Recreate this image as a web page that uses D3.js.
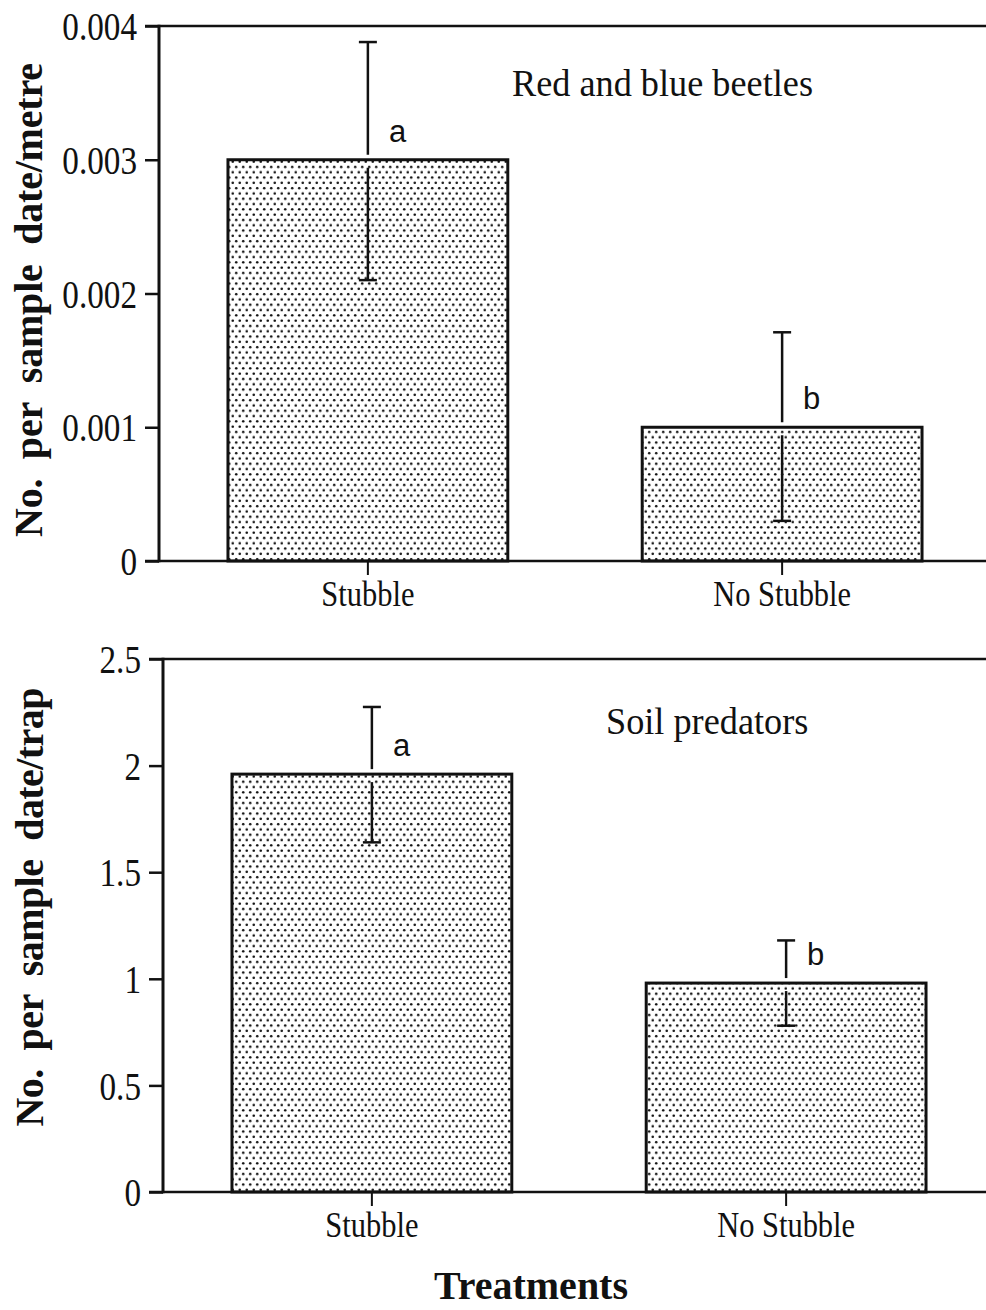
<!DOCTYPE html>
<html><head><meta charset="utf-8">
<script src="https://cdn.jsdelivr.net/npm/d3@7"></script>
<style>body{margin:0;background:#fff}svg{display:block}</style>
</head><body>
<script>
const categories = ["Stubble", "No Stubble"];
const beetleMeans = [0.003, 0.001];
const beetleLower = [0.0021, 0.0003];
const beetleUpper = [0.00388, 0.00171];
const beetleLetters = ["a", "b"];
const beetleTicks = [0, 0.001, 0.002, 0.003, 0.004];
const beetleTickLabels = ["0", "0.001", "0.002", "0.003", "0.004"];

const predatorMeans = [1.96, 0.98];
const predatorLower = [1.64, 0.78];
const predatorUpper = [2.275, 1.18];
const predatorLetters = ["a", "b"];
const predatorTicks = [0, 0.5, 1, 1.5, 2, 2.5];
const predatorTickLabels = ["0", "0.5", "1", "1.5", "2", "2.5"];

const W = 986, H = 1310;
const SERIF = "Liberation Serif, Times New Roman, serif";
const svg = d3.select("body").append("svg").attr("width", W).attr("height", H);
const defs = svg.append("defs");
const pat = defs.append("pattern").attr("id", "dots").attr("patternUnits", "userSpaceOnUse")
  .attr("width", 7).attr("height", 10.6);
pat.append("rect").attr("width", 7).attr("height", 10.6).attr("fill", "#fff");
pat.append("circle").attr("cx", 1.75).attr("cy", 2.65).attr("r", 1.3).attr("fill", "#111");
pat.append("circle").attr("cx", 5.25).attr("cy", 7.95).attr("r", 1.3).attr("fill", "#111");

function panel(cfg) {
  const g = svg.append("g");
  const x = d3.scaleBand().domain(categories).range([cfg.left, cfg.left + 832])
    .paddingInner(0.3245).paddingOuter(0.1665);
  const y = d3.scaleLinear().domain([0, cfg.max]).range([cfg.bottom, cfg.top]);

  // bars
  g.selectAll("rect.bar").data(categories).enter().append("rect")
    .attr("x", d => x(d)).attr("width", x.bandwidth())
    .attr("y", (d, i) => y(cfg.means[i]))
    .attr("height", (d, i) => y(0) - y(cfg.means[i]))
    .attr("fill", "url(#dots)").attr("stroke", "#111").attr("stroke-width", 3);

  // error bars
  categories.forEach((c, i) => {
    const cx = x(c) + x.bandwidth() / 2;
    const ym = y(cfg.means[i]), yu = y(cfg.upper[i]), yl = y(cfg.lower[i]);
    const e = g.append("g").attr("stroke", "#111").attr("stroke-width", 2.5);
    e.append("line").attr("x1", cx).attr("x2", cx).attr("y1", yu).attr("y2", ym - 5);
    e.append("line").attr("x1", cx).attr("x2", cx).attr("y1", ym + 8).attr("y2", yl);
    e.append("line").attr("x1", cx - 9).attr("x2", cx + 9).attr("y1", yu).attr("y2", yu);
    e.append("line").attr("x1", cx - 9).attr("x2", cx + 9).attr("y1", yl).attr("y2", yl);
    g.append("text").attr("x", cx + 21).attr("y", ym - 18)
      .attr("font-family", "Liberation Sans, Arial, sans-serif").attr("font-size", 31)
      .attr("fill", "#111").text(cfg.letters[i]);
  });

  // axes
  const yAxis = d3.axisLeft(y).tickValues(cfg.ticks).tickFormat((d, i) => cfg.tickLabels[i])
    .tickSize(14).tickPadding(8);
  const ya = g.append("g").attr("transform", `translate(${cfg.left},0)`).call(yAxis);
  ya.select(".domain").remove();
  ya.selectAll(".tick line").attr("stroke", "#111").attr("stroke-width", 2.5);
  ya.selectAll(".tick text").attr("font-family", SERIF).attr("font-size", 40).attr("fill", "#111")
    .attr("x", -22 / 0.83).attr("dy", "0.34em").attr("transform", "scale(0.83,1)");
  g.append("line").attr("x1", cfg.left).attr("x2", cfg.left).attr("y1", y(cfg.max) - 1.25).attr("y2", y(0) + 1.25)
    .attr("stroke", "#111").attr("stroke-width", 3);
  g.append("line").attr("x1", cfg.left - 14).attr("x2", W).attr("y1", y(cfg.max)).attr("y2", y(cfg.max))
    .attr("stroke", "#111").attr("stroke-width", 2.5);
  g.append("line").attr("x1", cfg.left - 14).attr("x2", W).attr("y1", y(0)).attr("y2", y(0))
    .attr("stroke", "#111").attr("stroke-width", 2.5);

  const xAxis = d3.axisBottom(x).tickSize(14).tickPadding(10);
  const xa = g.append("g").attr("transform", `translate(0,${y(0)})`).call(xAxis);
  xa.select(".domain").remove();
  xa.selectAll(".tick line").attr("stroke", "#111").attr("stroke-width", 2);
  xa.selectAll(".tick text").attr("font-family", SERIF).attr("font-size", 35).attr("fill", "#111")
    .attr("y", 20).attr("dy", "0.71em").attr("transform", "scale(0.87,1)");

  // title
  g.append("text").attr("transform", `translate(${cfg.titleX},${cfg.titleY}) scale(0.93,1)`)
    .attr("font-family", SERIF).attr("font-size", 39)
    .attr("fill", "#111").text(cfg.title);

  // y label
  g.append("text").attr("transform", `translate(${cfg.labelX},${cfg.labelY}) rotate(-90)`)
    .attr("text-anchor", "middle").attr("xml:space", "preserve").style("white-space", "pre")
    .attr("textLength", cfg.labelLen).attr("lengthAdjust", "spacing")
    .attr("font-family", SERIF).attr("font-weight", "bold")
    .attr("font-size", 40).attr("fill", "#111").text(cfg.ylabel);
}

panel({left: 159, top: 26, bottom: 561, max: 0.004, means: beetleMeans, lower: beetleLower,
  upper: beetleUpper, letters: beetleLetters, ticks: beetleTicks, tickLabels: beetleTickLabels,
  title: "Red and blue beetles", titleX: 512, titleY: 96, labelX: 42, labelY: 300, labelLen: 474,
  ylabel: "No.  per  sample  date/metre"});
panel({left: 163, top: 659, bottom: 1192, max: 2.5, means: predatorMeans, lower: predatorLower,
  upper: predatorUpper, letters: predatorLetters, ticks: predatorTicks, tickLabels: predatorTickLabels,
  title: "Soil predators", titleX: 606, titleY: 734, labelX: 43, labelY: 907, labelLen: 439,
  ylabel: "No.  per  sample  date/trap"});

svg.append("text").attr("x", 531).attr("y", 1299).attr("text-anchor", "middle")
  .attr("font-family", SERIF).attr("font-weight", "bold")
  .attr("font-size", 40).attr("fill", "#111").text("Treatments");
</script>
</body></html>
